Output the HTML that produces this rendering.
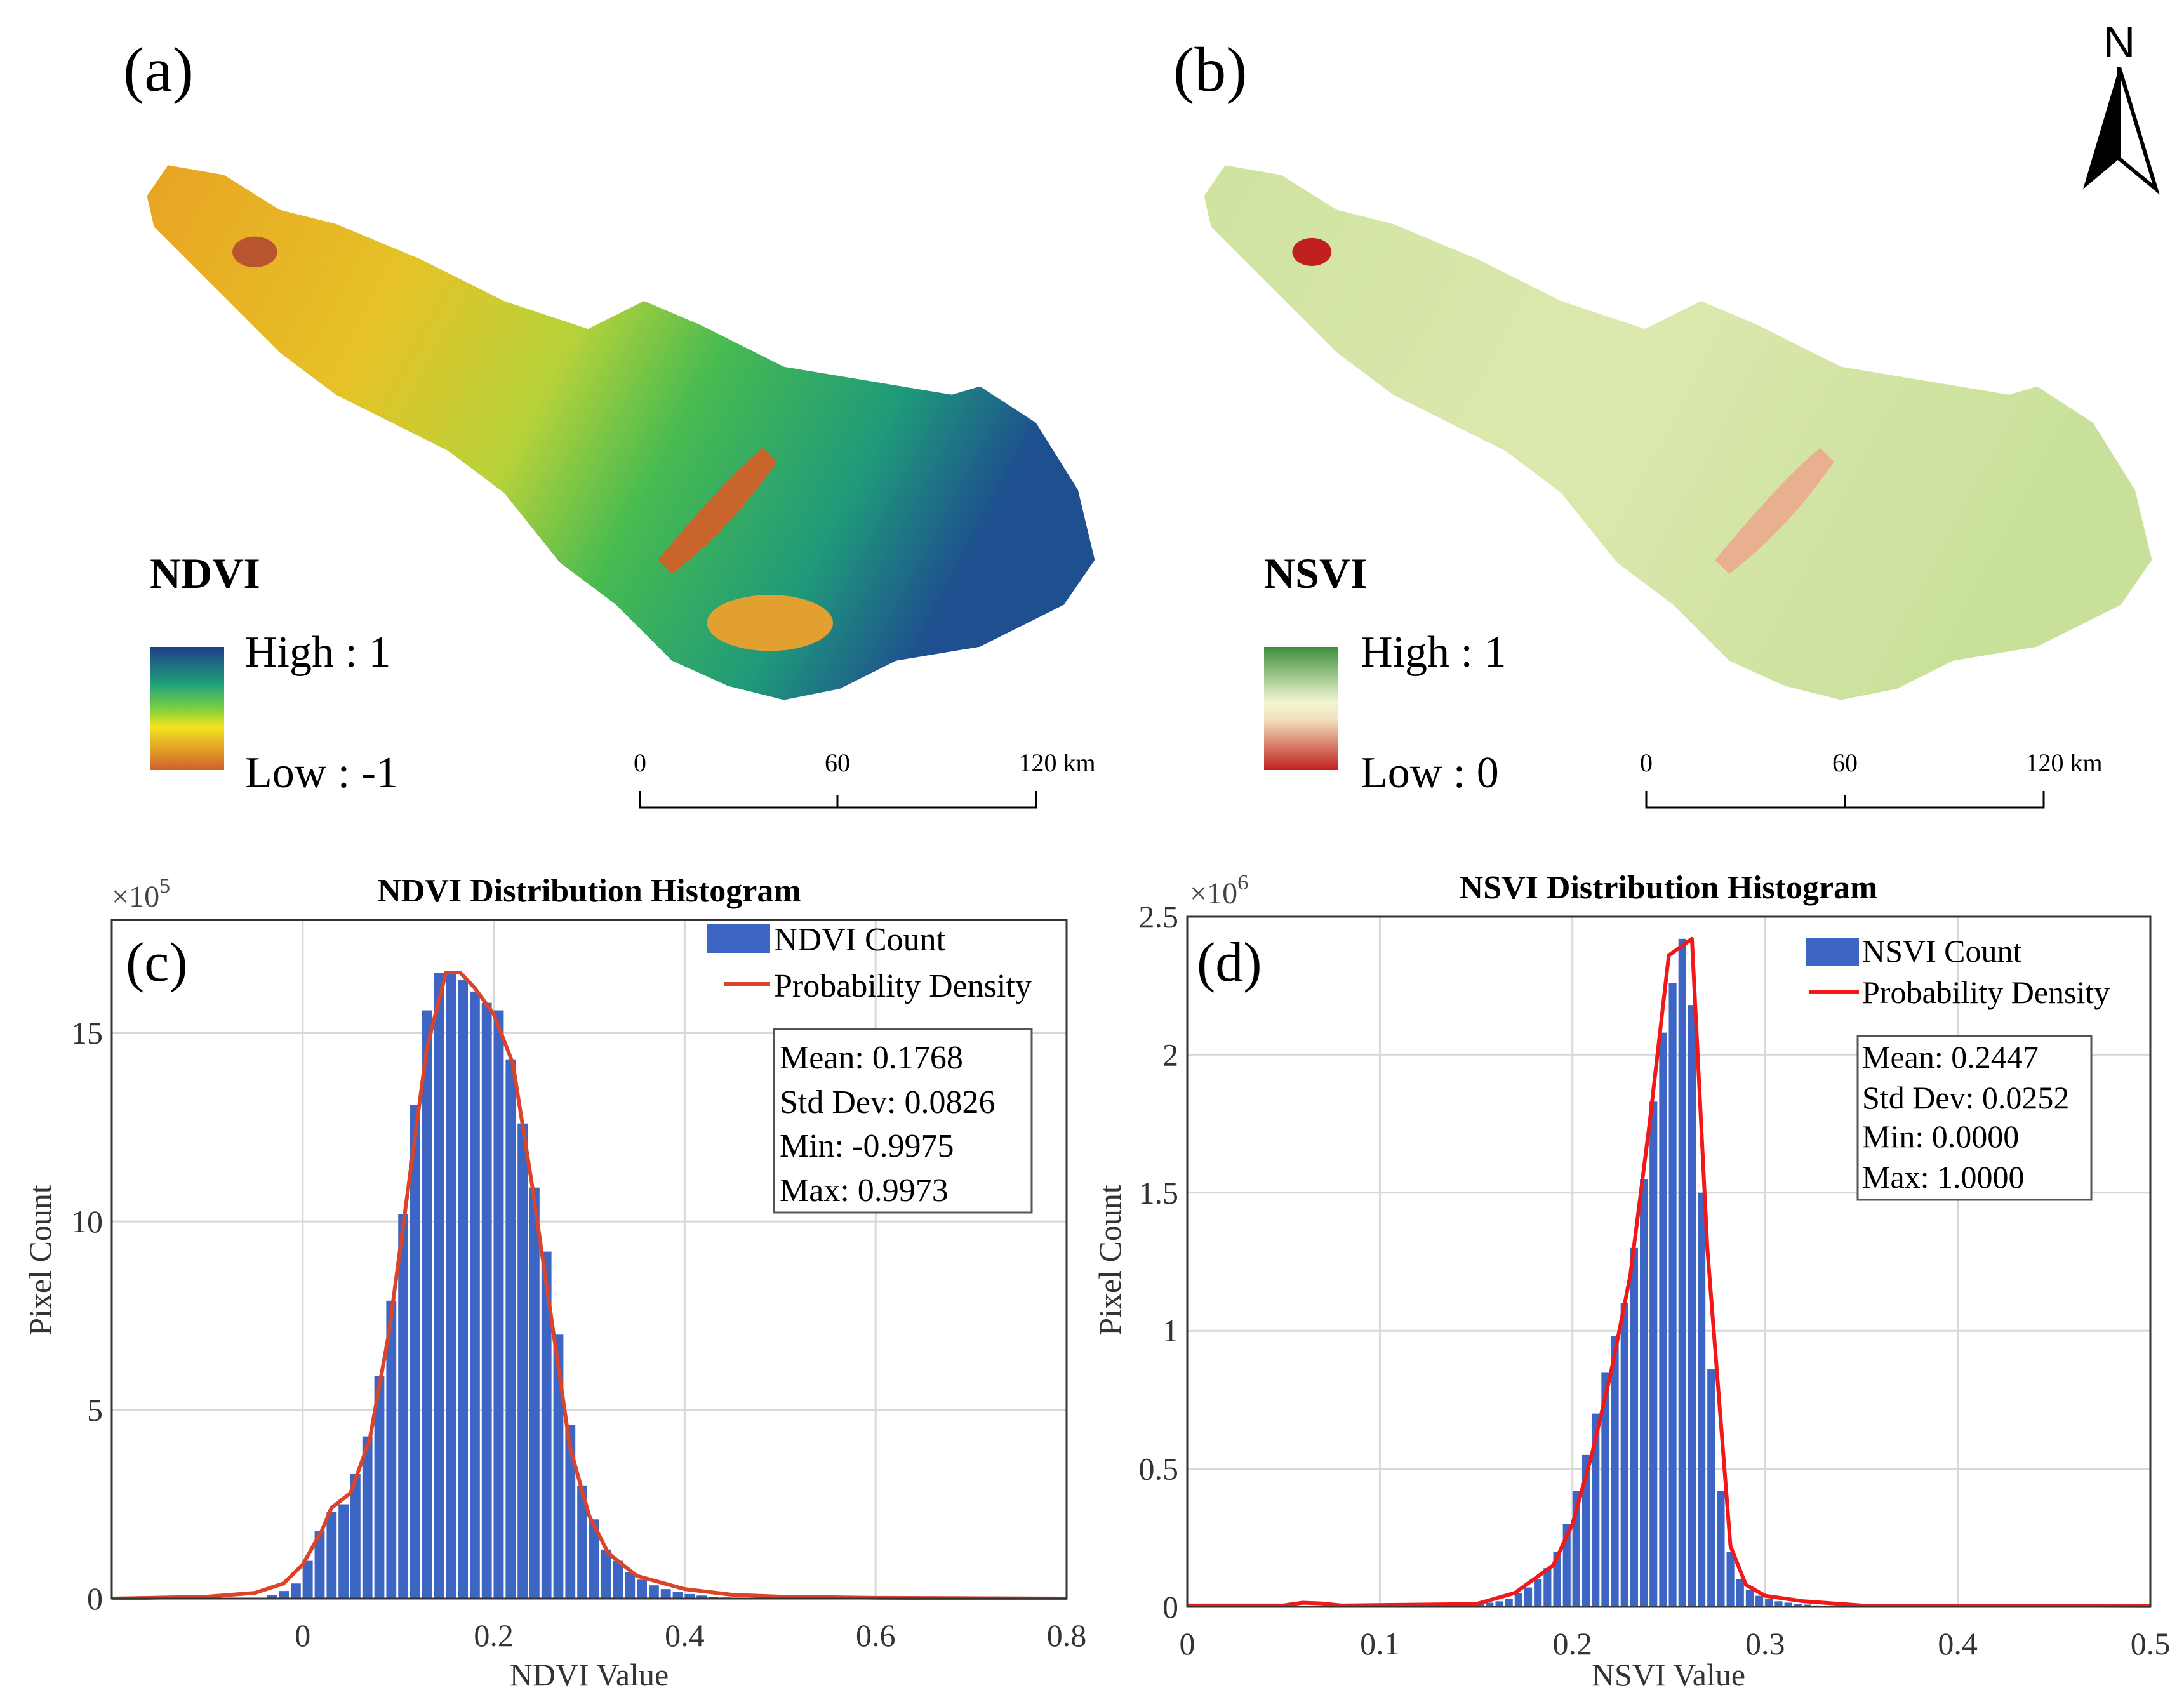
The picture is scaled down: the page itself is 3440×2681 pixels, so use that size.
<!DOCTYPE html>
<html><head><meta charset="utf-8">
<style>
html,body{margin:0;padding:0;background:#fff;}
svg{display:block;font-family:"Liberation Serif",serif;}
</style></head>
<body>
<svg id="fig" width="3440" height="2681" viewBox="0 0 3440 2681" xmlns="http://www.w3.org/2000/svg">
<defs>
 <linearGradient id="ndviFill" x1="0" y1="0" x2="1" y2="0.3">
  <stop offset="0" stop-color="#e8a323"/><stop offset="0.3" stop-color="#e6c227"/>
  <stop offset="0.5" stop-color="#b8d23a"/><stop offset="0.65" stop-color="#48bb50"/>
  <stop offset="0.85" stop-color="#1f9a7a"/><stop offset="1" stop-color="#1e4f8f"/>
 </linearGradient>
 <linearGradient id="ndviLeg" x1="0" y1="0" x2="0" y2="1">
  <stop offset="0" stop-color="#1f3e8a"/><stop offset="0.3" stop-color="#1fa07a"/>
  <stop offset="0.5" stop-color="#7ccf40"/><stop offset="0.65" stop-color="#f3e420"/>
  <stop offset="1" stop-color="#d0602a"/>
 </linearGradient>
 <linearGradient id="nsviLeg" x1="0" y1="0" x2="0" y2="1">
  <stop offset="0" stop-color="#3d8f3a"/><stop offset="0.45" stop-color="#f3f6d2"/>
  <stop offset="0.6" stop-color="#f3dcb8"/><stop offset="1" stop-color="#c0201e"/>
 </linearGradient>
 <linearGradient id="nsviFill" x1="0" y1="0" x2="1" y2="0.3">
  <stop offset="0" stop-color="#cfe3a0"/><stop offset="0.5" stop-color="#dce9ae"/>
  <stop offset="1" stop-color="#c8e09a"/>
 </linearGradient>
 <path id="region" d="M105,140 L120,118 L160,125 L200,150 L240,160 L300,185 L360,215 L420,235 L460,215 L500,232 L560,262 L620,272 L680,282 L700,276 L740,302 L770,350 L782,400 L760,432 L700,462 L640,472 L600,492 L560,500 L520,490 L480,472 L440,432 L400,402 L360,352 L320,322 L280,302 L240,282 L200,252 L150,202 L110,162 Z"/>
</defs>

<text x="194" y="143" font-size="100">(a)</text>
<text x="1848" y="143" font-size="100">(b)</text>

<g transform="scale(2.205)">
 <use href="#region" fill="url(#ndviFill)"/>
 <ellipse cx="182" cy="180" rx="16" ry="11" fill="#b8552e"/>
 <path d="M470,400 Q520,340 545,320 L555,330 Q520,380 480,410Z" fill="#c8642c"/>
 <ellipse cx="550" cy="445" rx="45" ry="20" fill="#e2a030"/>
</g>
<g transform="translate(1665,0) scale(2.205)">
 <use href="#region" fill="url(#nsviFill)"/>
 <ellipse cx="182" cy="180" rx="14" ry="10" fill="#c0201e"/>
 <path d="M470,400 Q520,340 545,320 L555,330 Q520,380 480,410Z" fill="#e8b090"/>
</g>

<g>
 <text x="3338" y="90" font-size="70" font-family="Liberation Sans, sans-serif" text-anchor="middle">N</text>
 <polygon points="3338,106 3281,298 3338,250" fill="#000"/>
 <polygon points="3338,106 3396,298 3338,250" fill="#fff" stroke="#000" stroke-width="6"/>
</g>

<g>
 <text x="236" y="926" font-size="68" font-weight="bold">NDVI</text>
 <rect x="236" y="1019" width="117" height="194" fill="url(#ndviLeg)"/>
 <text x="386" y="1050" font-size="70">High : 1</text>
 <text x="386" y="1240" font-size="70">Low : -1</text>
</g>
<g>
 <text x="1991" y="926" font-size="68" font-weight="bold">NSVI</text>
 <rect x="1991" y="1019" width="117" height="194" fill="url(#nsviLeg)"/>
 <text x="2143" y="1050" font-size="70">High : 1</text>
 <text x="2143" y="1240" font-size="70">Low : 0</text>
</g>
<g font-size="40" text-anchor="middle">
 <text x="1008" y="1215">0</text><text x="1319" y="1215">60</text><text x="1665" y="1215">120 km</text>
 <path d="M1008,1246 V1272 H1632 V1246 M1319,1272 V1252" stroke="#000" stroke-width="3" fill="none"/>
</g>
<g font-size="40" text-anchor="middle">
 <text x="2593" y="1215">0</text><text x="2906" y="1215">60</text><text x="3251" y="1215">120 km</text>
 <path d="M2593,1246 V1272 H3219 V1246 M2906,1272 V1252" stroke="#000" stroke-width="3" fill="none"/>
</g>

<g id="chartC"></g>
<g id="chartD"></g>
</svg>
<script>
// ---- NDVI data (counts x1e5) ----
const ndviBinStart = -0.0375;
const ndviBinWidth = 0.0125;
const ndviCounts = [0.1,0.2,0.4,1.0,1.8,2.3,2.5,3.3,4.3,5.9,7.9,10.2,13.1,15.6,16.6,16.6,16.4,16.1,15.8,15.6,14.3,12.6,10.9,9.2,7.0,4.6,3.0,2.1,1.3,1.0,0.7,0.5,0.35,0.25,0.18,0.12,0.08,0.05,0.03,0.02];
const ndviCurveX = [-0.2,-0.1,-0.05,-0.02,0,0.02,0.03,0.05,0.07,0.09,0.11,0.13,0.15,0.165,0.18,0.2,0.22,0.24,0.26,0.28,0.3,0.32,0.35,0.4,0.45,0.5,0.6,0.8];
const ndviCurveY = [0,0.05,0.15,0.4,0.9,1.8,2.4,2.8,4.2,7.0,10.8,14.6,16.6,16.6,16.2,15.5,14.2,11.0,7.5,4.0,2.2,1.2,0.6,0.25,0.1,0.05,0.02,0];
const ndviXTicks = [0,0.2,0.4,0.6,0.8];
const ndviXTickLabels = ["0","0.2","0.4","0.6","0.8"];
const ndviYTicks = [0,5,10,15];
const ndviYTickLabels = ["0","5","10","15"];
// ---- NSVI data (counts x1e6) ----
const nsviBinStart = 0.15;
const nsviBinWidth = 0.005;
const nsviCounts = [0.01,0.015,0.02,0.03,0.05,0.07,0.1,0.14,0.2,0.3,0.42,0.55,0.7,0.85,0.98,1.1,1.3,1.55,1.83,2.08,2.26,2.42,2.18,1.5,0.86,0.42,0.2,0.1,0.06,0.04,0.03,0.02,0.015,0.01,0.008,0.005];
const nsviCurveX = [0,0.05,0.06,0.07,0.08,0.15,0.17,0.19,0.2,0.21,0.22,0.23,0.24,0.25,0.262,0.27,0.275,0.282,0.29,0.3,0.32,0.35,0.5];
const nsviCurveY = [0.005,0.005,0.015,0.012,0.005,0.01,0.05,0.15,0.3,0.55,0.85,1.2,1.75,2.36,2.42,1.3,0.85,0.22,0.08,0.04,0.02,0.005,0.003];
const nsviXTicks = [0,0.1,0.2,0.3,0.4,0.5];
const nsviXTickLabels = ["0","0.1","0.2","0.3","0.4","0.5"];
const nsviYTicks = [0,0.5,1,1.5,2,2.5];
const nsviYTickLabels = ["0","0.5","1","1.5","2","2.5"];

const NS="http://www.w3.org/2000/svg";
function mk(parent,tag,attrs,text){const e=document.createElementNS(NS,tag);for(const k in attrs)e.setAttribute(k,attrs[k]);if(text!==undefined)e.textContent=text;parent.appendChild(e);return e;}

function drawChart(g,cfg){
 const {L,R,T,B,x0,x1,y0,y1}=cfg;
 const sx=v=>L+(v-x0)/(x1-x0)*(R-L);
 const sy=v=>B-(v-y0)/(y1-y0)*(B-T);
 mk(g,'rect',{x:L,y:T,width:R-L,height:B-T,fill:'#fff',stroke:'none'});
 cfg.xt.forEach((v,i)=>{
  const l=mk(g,'line',{x1:sx(v),x2:sx(v),y1:T,y2:B,stroke:'#d8d8d8','stroke-width':3});
  
  
  const t=mk(g,'text',{x:sx(v),y:B+75,'font-size':50,'text-anchor':'middle',fill:'#333'},cfg.xl[i]);
  
  
 });
 cfg.yt.forEach((v,i)=>{
  const l=mk(g,'line',{x1:L,x2:R,y1:sy(v),y2:sy(v),stroke:'#d8d8d8','stroke-width':3});
  
  
  const t=mk(g,'text',{x:L-14,y:sy(v)+17,'font-size':50,'text-anchor':'end',fill:'#333'},cfg.yl[i]);
  
  
 });
 cfg.counts.forEach((c,i)=>{
  const a=cfg.bs+i*cfg.bw, b=a+cfg.bw;
  const r=mk(g,'rect',{x:sx(a),y:sy(c),width:Math.max(1,sx(b)-sx(a)-3),height:sy(0)-sy(c),fill:'#3d66c4'});
  
  
 });
 const pts=cfg.cx.map((x,i)=>sx(x)+','+sy(cfg.cy[i])).join(' ');
 const pl=mk(g,'polyline',{points:pts,fill:'none',stroke:cfg.lc,'stroke-width':6,'stroke-linejoin':'round'});
 
 
 const fr=mk(g,'rect',{x:L,y:T,width:R-L,height:B-T,fill:'none',stroke:'#333','stroke-width':3});
 
 
}

const gc=document.getElementById('chartC');


drawChart(gc,{L:176,R:1680,T:1449,B:2518,x0:-0.2,x1:0.8,y0:0,y1:18,xt:ndviXTicks,xl:ndviXTickLabels,yt:ndviYTicks,yl:ndviYTickLabels,counts:ndviCounts,bs:ndviBinStart,bw:ndviBinWidth,cx:ndviCurveX,cy:ndviCurveY,lc:'#d9442a'});
const gd=document.getElementById('chartD');


drawChart(gd,{L:1870,R:3387,T:1444,B:2531,x0:0,x1:0.5,y0:0,y1:2.5,xt:nsviXTicks,xl:nsviXTickLabels,yt:nsviYTicks,yl:nsviYTickLabels,counts:nsviCounts,bs:nsviBinStart,bw:nsviBinWidth,cx:nsviCurveX,cy:nsviCurveY,lc:'#f01818'});
</script>
<svg style="position:absolute;left:0;top:0" width="3440" height="2681" xmlns="http://www.w3.org/2000/svg">
 <g font-family="Liberation Serif, serif">
  <text x="928" y="1420" font-size="52" font-weight="bold" text-anchor="middle">NDVI Distribution Histogram</text>
  <text x="176" y="1428" font-size="48" fill="#444">×10<tspan dy="-22" font-size="34">5</tspan></text>
  <text x="198" y="1545" font-size="88">(c)</text>
  <text x="80" y="1985" font-size="50" fill="#333" text-anchor="middle" transform="rotate(-90 80 1985)">Pixel Count</text>
  <text x="928" y="2655" font-size="50" fill="#333" text-anchor="middle">NDVI Value</text>
  <g>
   <rect x="1113" y="1455" width="100" height="46" fill="#3d66c4"/>
   <text x="1219" y="1497" font-size="52">NDVI Count</text>
   <line x1="1140" y1="1550" x2="1213" y2="1550" stroke="#d9442a" stroke-width="6"/>
   <text x="1219" y="1570" font-size="52">Probability Density</text>
  </g>
  <g font-size="52">
   <rect x="1219" y="1621" width="406" height="289" fill="#fff" stroke="#555" stroke-width="3"/>
   <text x="1228" y="1683">Mean: 0.1768</text>
   <text x="1228" y="1753">Std Dev: 0.0826</text>
   <text x="1228" y="1822">Min: -0.9975</text>
   <text x="1228" y="1892">Max: 0.9973</text>
  </g>

  <text x="2628" y="1415" font-size="52" font-weight="bold" text-anchor="middle">NSVI Distribution Histogram</text>
  <text x="1874" y="1423" font-size="48" fill="#444">×10<tspan dy="-22" font-size="34">6</tspan></text>
  <text x="1885" y="1545" font-size="88">(d)</text>
  <text x="1765" y="1985" font-size="50" fill="#333" text-anchor="middle" transform="rotate(-90 1765 1985)">Pixel Count</text>
  <text x="2628" y="2655" font-size="50" fill="#333" text-anchor="middle">NSVI Value</text>
  <g>
   <rect x="2845" y="1477" width="83" height="44" fill="#3d66c4"/>
   <text x="2933" y="1515" font-size="50">NSVI Count</text>
   <line x1="2850" y1="1563" x2="2928" y2="1563" stroke="#f01818" stroke-width="6"/>
   <text x="2933" y="1580" font-size="50">Probability Density</text>
  </g>
  <g font-size="50">
   <rect x="2926" y="1632" width="368" height="258" fill="#fff" stroke="#555" stroke-width="3"/>
   <text x="2933" y="1682">Mean: 0.2447</text>
   <text x="2933" y="1746">Std Dev: 0.0252</text>
   <text x="2933" y="1807">Min: 0.0000</text>
   <text x="2933" y="1871">Max: 1.0000</text>
  </g>
 </g>
</svg>
</body></html>
